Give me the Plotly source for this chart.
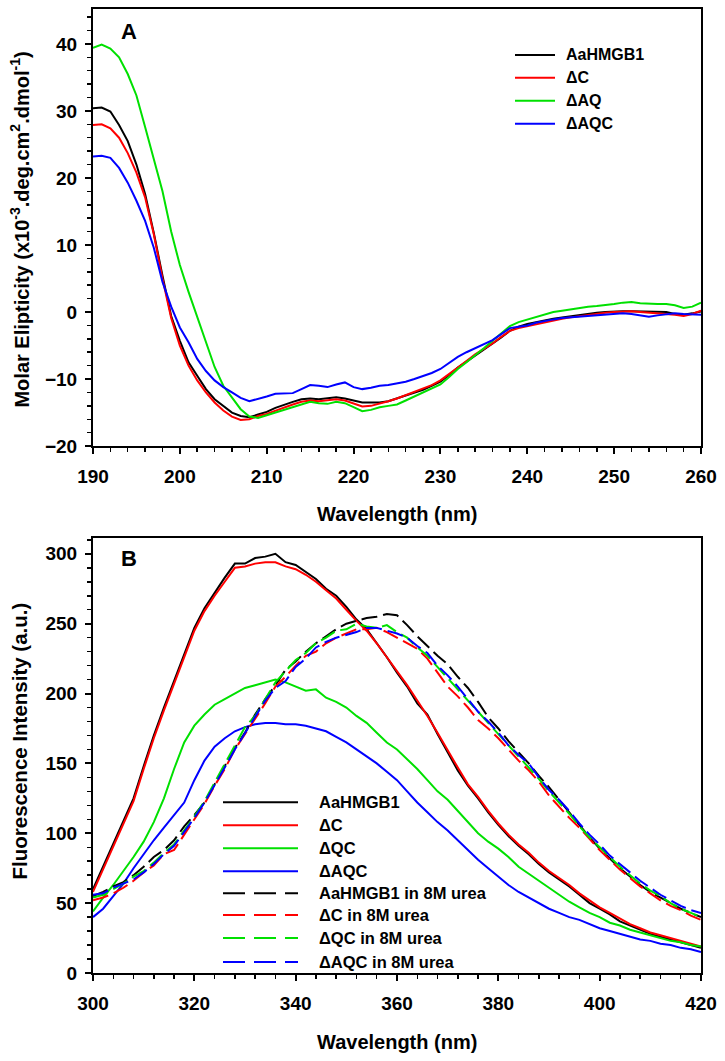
import plotly.graph_objects as go

# ---------------- Data: panel A (CD spectra) ----------------
wl_cd = list(range(190, 261))
cd_aahmgb1 = [30.4, 30.5, 29.9, 27.9, 25.5, 22.0, 17.6, 11.8, 5.4, -0.6,
              -4.3, -7.5, -9.5, -11.5, -13.0, -14.0, -15.0, -15.5, -15.7, -15.3,
              -14.9, -14.3, -13.8, -13.4, -13.0, -12.9, -13.0, -12.9, -12.7, -12.9,
              -13.2, -13.5, -13.5, -13.5, -13.3, -12.9, -12.5, -12.1, -11.6, -11.0,
              -10.4, -9.4, -8.3, -7.4, -6.5, -5.6, -4.8, -3.8, -2.8, -2.2,
              -1.8, -1.5, -1.2, -1.0, -0.8, -0.6, -0.4, -0.2, -0.1, 0.0,
              0.1, 0.1, 0.1, 0.1, 0.1, 0.1, 0.0, -0.3, -0.4, -0.2,
              0.1]
cd_dc = [27.9, 28.0, 27.4, 26.0, 23.7, 20.8, 17.1, 11.6, 5.0, -0.9,
         -5.0, -8.0, -10.2, -12.0, -13.5, -14.7, -15.6, -16.1, -16.0, -15.5,
         -15.2, -14.7, -14.2, -13.8, -13.4, -13.2, -13.3, -13.2, -13.0, -13.2,
         -13.6, -14.1, -14.0, -13.7, -13.3, -12.9, -12.4, -12.0, -11.5, -10.9,
         -10.2, -9.3, -8.3, -7.3, -6.3, -5.5, -4.7, -3.7, -2.8, -2.4,
         -2.1, -1.8, -1.6, -1.3, -1.0, -0.8, -0.6, -0.4, -0.2, -0.1,
         0.0, 0.1, 0.1, 0.0, -0.1, -0.1, -0.2, -0.4, -0.6, -0.3,
         0.2]
cd_daq = [39.4, 39.9, 39.3, 38.0, 35.5, 32.3, 27.6, 22.9, 18.0, 12.0,
          7.0, 3.0, -0.8, -4.7, -8.2, -11.0, -12.8, -14.5, -15.6, -15.8,
          -15.4, -15.0, -14.6, -14.2, -13.8, -13.4, -13.6, -13.7, -13.4, -13.6,
          -14.2, -14.8, -14.6, -14.2, -14.0, -13.8, -13.2, -12.6, -12.0, -11.4,
          -10.8, -9.7, -8.5, -7.5, -6.5, -5.4, -4.3, -3.2, -2.1, -1.5,
          -1.1, -0.7, -0.3, 0.0, 0.2, 0.4, 0.7, 0.8, 0.9, 1.0,
          1.2, 1.4, 1.5, 1.3, 1.2, 1.2, 1.2, 1.0, 0.6, 0.8,
          1.4]
cd_daqc = [23.2, 23.3, 23.0, 21.5, 19.3, 16.6, 13.6, 9.6, 4.5, 0.8,
           -2.3, -4.5, -7.0, -8.8, -10.2, -11.2, -12.0, -12.8, -13.3, -13.0,
           -12.6, -12.2, -12.1, -12.1, -11.5, -10.9, -11.0, -11.2, -10.8, -10.5,
           -11.2, -11.5, -11.3, -11.0, -10.9, -10.7, -10.4, -10.0, -9.6, -9.1,
           -8.5, -7.6, -6.7, -6.0, -5.4, -4.8, -4.2, -3.3, -2.4, -2.2,
           -2.0, -1.6, -1.3, -1.1, -0.9, -0.8, -0.6, -0.6, -0.5, -0.3,
           -0.2, -0.2, -0.3, -0.5, -0.7, -0.5, -0.3, -0.2, -0.3, -0.4,
           -0.4]
cd_names = ["AaHMGB1", "ΔC", "ΔAQ", "ΔAQC"]

# ---------------- Data: panel B (fluorescence) ----------------
wl_fl = list(range(300, 421, 2))
fl_aahmgb1 = [60, 76, 92, 108, 125, 148, 170, 190, 209, 229,
              247, 261, 272, 283, 293, 293, 297, 298, 300, 294,
              292, 287, 282, 275, 270, 262, 253, 246, 236, 226,
              215, 205, 193, 185, 171, 158, 145, 134, 125, 115,
              106, 98, 91, 85, 78, 72, 67, 62, 56, 50,
              46, 42, 37, 34, 31, 28, 26, 24, 22, 20,
              18]
fl_dc = [58, 74, 90, 106, 123, 146, 168, 188, 207, 227,
         245, 259, 270, 280, 290, 291, 293, 294, 294, 291,
         289, 285, 280, 274, 268, 260, 252, 245, 236, 226,
         216, 206, 195, 184, 172, 159, 147, 135, 126, 116,
         107, 99, 92, 86, 79, 73, 68, 63, 57, 52,
         47, 43, 39, 35, 32, 29, 27, 25, 23, 21,
         19]
fl_dqc = [44, 54, 63, 73, 83, 94, 108, 125, 146, 165,
          177, 185, 192, 196, 200, 204, 206, 208, 210, 208,
          205, 202, 203, 197, 194, 190, 184, 179, 172, 165,
          160, 153, 146, 138, 130, 124, 116, 108, 100, 94,
          89, 83, 76, 71, 66, 61, 56, 51, 47, 43,
          40, 36, 34, 31, 29, 27, 25, 23, 22, 20,
          19]
fl_daqc = [40, 46, 55, 64, 75, 85, 95, 104, 113, 122,
           138, 152, 162, 168, 173, 176, 178, 179, 179, 178,
           178, 177, 175, 173, 169, 165, 160, 155, 150, 144,
           138, 130, 122, 115, 108, 102, 95, 88, 81, 75,
           69, 63, 58, 54, 50, 46, 43, 40, 38, 35,
           32, 30, 28, 26, 24, 23, 21, 20, 18, 17,
           15]
fl_aahmgb1_urea = [55, 58, 62, 65, 70, 76, 83, 88, 95, 105,
                   113, 122, 135, 148, 161, 172, 185, 196, 206, 217,
                   223, 230, 236, 241, 246, 250, 252, 254, 255, 257,
                   256, 249, 241, 234, 227, 221, 212, 204, 194, 183,
                   175, 166, 158, 150, 141, 133, 124, 115, 106, 97,
                   89, 82, 75, 69, 63, 58, 54, 50, 46, 43,
                   40]
fl_dc_urea = [52, 54, 57, 61, 66, 72, 77, 85, 88, 99,
              110, 121, 134, 146, 160, 171, 182, 193, 205, 212,
              220, 227, 230, 236, 240, 243, 246, 246, 247, 244,
              240, 236, 232, 225, 215, 205, 198, 190, 181, 175,
              168, 160, 152, 145, 137, 127, 119, 111, 104, 96,
              88, 81, 74, 68, 62, 57, 52, 48, 45, 41,
              38]
fl_dqc_urea = [54, 56, 60, 64, 69, 73, 79, 86, 92, 102,
               112, 123, 136, 149, 162, 176, 184, 196, 208, 216,
               224, 229, 236, 240, 245, 246, 250, 248, 247, 249,
               244, 240, 233, 227, 219, 211, 203, 195, 187, 179,
               171, 163, 155, 147, 139, 130, 122, 114, 105, 97,
               90, 83, 76, 70, 64, 59, 55, 50, 46, 43,
               40]
fl_daqc_urea = [56, 57, 61, 64, 67, 72, 78, 85, 91, 101,
                111, 122, 134, 147, 160, 172, 183, 195, 204, 209,
                219, 225, 233, 237, 240, 242, 244, 247, 247, 245,
                243, 240, 234, 229, 220, 213, 205, 196, 187, 180,
                172, 163, 156, 150, 140, 131, 124, 116, 107, 99,
                92, 84, 78, 72, 66, 61, 56, 52, 48, 45,
                43]
fl_names = ["AaHMGB1", "ΔC", "ΔQC", "ΔAQC",
            "AaHMGB1 in 8M urea", "ΔC in 8M urea", "ΔQC in 8M urea", "ΔAQC in 8M urea"]

colors = ["#000000", "#ff0000", "#00e000", "#0000ff"]

# ---------------- Layout geometry (pixels) ----------------
W, H = 725, 1061
ML, MR, MT, MB = 93, 24, 7, 88
PW, PH = W - ML - MR, H - MT - MB

def px(xp):
    return (xp - ML) / PW

def py(yp):
    return (H - MB - yp) / PH

FONT = "Liberation Sans, Arial, sans-serif"
DASH_PLOT = "16px,6px"
DASH_LEG = "22px,9px"

fig = go.Figure()

for name, ys, c in zip(cd_names, [cd_aahmgb1, cd_dc, cd_daq, cd_daqc], colors):
    fig.add_trace(go.Scatter(x=wl_cd, y=ys, mode="lines", name=name,
                             line=dict(color=c, width=2), xaxis="x", yaxis="y",
                             showlegend=False))

fl_series = [fl_aahmgb1, fl_dc, fl_dqc, fl_daqc,
             fl_aahmgb1_urea, fl_dc_urea, fl_dqc_urea, fl_daqc_urea]
for i, (name, ys) in enumerate(zip(fl_names, fl_series)):
    c = colors[i % 4]
    dash = "solid" if i < 4 else DASH_PLOT
    fig.add_trace(go.Scatter(x=wl_fl, y=ys, mode="lines", name=name,
                             line=dict(color=c, width=2, dash=dash),
                             xaxis="x2", yaxis="y2", showlegend=False))

tickfont = dict(family=FONT, size=19, color="black", weight="bold")

def axis(rng, dtick, mdtick, domain, anchor):
    return dict(range=rng, dtick=dtick, tick0=0, domain=domain, anchor=anchor,
                showline=True, linewidth=2, linecolor="black", mirror=True,
                ticks="outside", ticklen=6, tickwidth=2, tickcolor="black",
                showgrid=False, zeroline=False, tickfont=tickfont,
                minor=dict(ticks="outside", ticklen=4, tickwidth=1.5,
                           tickcolor="black", dtick=mdtick, showgrid=False))

xa = axis([190, 260], 10, 2, [0, 1], "y")
ya = axis([-20, 45.2], 10, 2, [py(445), 1], "x")
xb = axis([300, 420], 20, 4, [0, 1], "y2")
yb = axis([0, 311.4], 50, 10, [0, py(537)], "x2")
xa["ticklabelstandoff"] = 6
xb["ticklabelstandoff"] = 6
ya["ticklabelstandoff"] = 4
yb["ticklabelstandoff"] = 4

annotations = []
shapes = []

def text(x, y, s, size, angle=0, xanchor="center", yanchor="middle"):
    annotations.append(dict(x=x, y=y, xref="paper", yref="paper", text=s,
                            showarrow=False, textangle=angle,
                            xanchor=xanchor, yanchor=yanchor,
                            font=dict(family=FONT, size=size, color="black",
                                      weight="bold")))

# axis titles
text(px(20), py(228),
     "Molar Elipticity (x10<sup>-3</sup>.deg.cm<sup>2</sup>.dmol<sup>-1</sup>)",
     20, angle=-90)
text(px(397), py(513), "Wavelength (nm)", 20)
text(px(19), py(741), "Fluorescence Intensity (a.u.)", 20.5, angle=-90)
text(px(397), py(1042), "Wavelength (nm)", 20)

# panel letters
text(px(129), py(30), "A", 22)
text(px(129), py(558), "B", 22)

# legend A
legA_rows = [53, 76, 99, 122]
for name, c, r in zip(cd_names, colors, legA_rows):
    shapes.append(dict(type="line", xref="paper", yref="paper",
                       x0=px(515), x1=px(555), y0=py(r), y1=py(r),
                       line=dict(color=c, width=2)))
    text(px(564), py(r), name, 16, xanchor="left")

# legend B
legB_rows = [802, 825, 848, 871, 893, 915, 938, 962]
for i, (name, r) in enumerate(zip(fl_names, legB_rows)):
    c = colors[i % 4]
    shapes.append(dict(type="line", xref="paper", yref="paper",
                       x0=px(223), x1=px(298), y0=py(r), y1=py(r),
                       line=dict(color=c, width=2,
                                 dash="solid" if i < 4 else DASH_LEG)))
    text(px(317), py(r), name, 16.5, xanchor="left")

fig.update_layout(
    width=W, height=H,
    margin=dict(l=ML, r=MR, t=MT, b=MB),
    paper_bgcolor="white", plot_bgcolor="white",
    xaxis=xa, yaxis=ya, xaxis2=xb, yaxis2=yb,
    annotations=annotations, shapes=shapes,
    showlegend=False,
)

fig.write_html("out.html",
               config={"displayModeBar": False, "staticPlot": True},
               post_script="document.body.style.margin='0';document.body.style.overflow='hidden';")
